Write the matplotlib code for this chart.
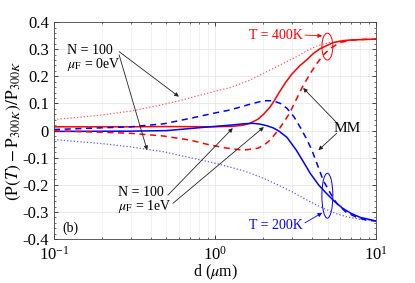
import numpy as np
import matplotlib.pyplot as plt
from matplotlib.patches import Ellipse

plt.rcParams['font.family'] = ['Liberation Serif', 'DejaVu Serif']
plt.rcParams['mathtext.fontset'] = 'stix'
plt.rcParams['axes.unicode_minus'] = False
plt.rcParams['font.size'] = 9.5

# Veriler
d_r_dot = [0.1, 0.15, 0.2, 0.3, 0.45, 0.6, 0.8, 1.0, 1.24, 1.65, 2.0, 2.5, 3.2, 3.8, 4.3, 5.0, 6.2, 8.0, 10.0]
p_r_dot = [0.041, 0.05, 0.058, 0.072, 0.093, 0.11, 0.13, 0.145, 0.158, 0.186, 0.211, 0.24, 0.272, 0.297, 0.312, 0.323, 0.333, 0.336, 0.337]

d_b_dot = [0.1, 0.2, 0.3, 0.48, 0.81, 1.0, 1.25, 1.5, 1.9, 2.4, 3.0, 3.7, 4.7, 5.6, 6.6, 8.0, 10.0]
p_b_dot = [-0.033, -0.048, -0.06, -0.078, -0.108, -0.12, -0.135, -0.148, -0.17, -0.197, -0.225, -0.255, -0.286, -0.305, -0.318, -0.327, -0.333]

d_r_sol = [0.1, 0.3, 0.5, 1.0, 1.3, 1.5, 1.65, 1.85, 2.0, 2.2, 2.35, 2.5, 2.75, 3.0, 3.35, 3.7, 4.1, 4.5, 5.4, 6.2, 7.0, 8.5, 10.0]
p_r_sol = [0.014, 0.014, 0.015, 0.014, 0.016, 0.02, 0.027, 0.042, 0.06, 0.087, 0.113, 0.14, 0.178, 0.208, 0.238, 0.26, 0.285, 0.302, 0.324, 0.331, 0.334, 0.336, 0.337]

d_b_sol = [0.1, 0.3, 0.5, 0.93, 1.24, 1.5, 1.7, 1.9, 2.1, 2.3, 2.5, 2.8, 3.2, 3.5, 3.9, 4.4, 4.9, 5.5, 6.2, 7.0, 8.0, 10.0]
p_b_sol = [-0.003, -0.002, 0.0, 0.014, 0.02, 0.025, 0.027, 0.024, 0.018, 0.01, -0.002, -0.025, -0.072, -0.11, -0.157, -0.2, -0.23, -0.26, -0.286, -0.305, -0.32, -0.333]

d_r_das = [0.1, 0.2, 0.3, 0.48, 0.7, 0.93, 1.2, 1.5, 1.85, 2.05, 2.2, 2.5, 2.9, 3.2, 3.5, 3.9, 4.3, 4.7, 5.2, 6.0, 7.0, 8.5, 10.0]
p_r_das = [-0.001, -0.006, -0.01, -0.02, -0.035, -0.053, -0.065, -0.072, -0.065, -0.05, -0.035, 0.005, 0.063, 0.115, 0.162, 0.21, 0.248, 0.278, 0.303, 0.325, 0.333, 0.336, 0.337]

d_b_das = [0.1, 0.3, 0.48, 0.7, 1.0, 1.24, 1.6, 2.0, 2.3, 2.55, 2.8, 3.1, 3.4, 3.7, 4.0, 4.35, 4.7, 5.2, 5.7, 6.5, 7.6, 8.7, 10.0]
p_b_das = [0.004, 0.014, 0.025, 0.045, 0.065, 0.076, 0.095, 0.11, 0.11, 0.1, 0.082, 0.05, 0.01, -0.03, -0.072, -0.13, -0.183, -0.23, -0.268, -0.3, -0.32, -0.33, -0.333]

yticks = [-0.4, -0.3, -0.2, -0.1, 0, 0.1, 0.2, 0.3, 0.4]
ytick_labels = ['-0.4', '-0.3', '-0.2', '-0.1', '0', '0.1', '0.2', '0.3', '0.4']

fig = plt.figure(figsize=(4.15, 2.83), dpi=100)
ax = fig.add_axes([0.130, 0.155, 0.776, 0.767])

ax.plot(d_r_dot, p_r_dot, color='#ff5a5a', ls=':', lw=0.9)
ax.plot(d_b_dot, p_b_dot, color='#5a5aff', ls=':', lw=0.9)
ax.plot(d_r_sol, p_r_sol, color='red', ls='-', lw=1.1)
ax.plot(d_b_sol, p_b_sol, color='blue', ls='-', lw=1.1)
ax.plot(d_r_das, p_r_das, color='red', ls=(0, (4, 3)), lw=1.1)
ax.plot(d_b_das, p_b_das, color='blue', ls=(0, (4, 3)), lw=1.1)

ax.set_xscale('log')
ax.set_xlim(0.1, 10)
ax.set_ylim(-0.4, 0.4)
ax.set_yticks(yticks)
ax.set_yticklabels(ytick_labels)
ax.set_yticks(np.arange(-0.4, 0.41, 0.02), minor=True)
ax.tick_params(which='both', direction='in', top=True, right=True, labelsize=12)
ax.tick_params(which='major', length=3, width=0.5)
ax.tick_params(which='minor', length=1.5, width=0.4)
ax.tick_params(axis='x', which='major', pad=5)
ax.grid(which='major', color='#e6e6e6', lw=0.6)
ax.grid(which='minor', axis='x', color='#ededed', lw=0.5)
ax.set_axisbelow(True)
for s in ax.spines.values():
    s.set_linewidth(0.6)
    s.set_color('#444444')

ax.set_xlabel(r'd ($\mu$m)', fontsize=11.5, labelpad=-1)
ax.set_ylabel(r'$(\mathrm{P}(T) - \mathrm{P}_{300K})/\mathrm{P}_{300K}$', fontsize=12.5, labelpad=0)

arr = dict(arrowstyle='-|>', color='#222222', lw=0.6, mutation_scale=6, shrinkA=0, shrinkB=0)

# Etiketler ve oklar
ax.text(0.12, 0.297, 'N = 100', ha='left', va='center', fontsize=10)
ax.text(0.12, 0.245, r'$\mu_{\mathrm{F}}$ = 0eV', ha='left', va='center', fontsize=10)
ax.annotate('', xy=(0.597, 0.125), xytext=(0.254, 0.291), arrowprops=arr)
ax.annotate('', xy=(0.379, -0.072), xytext=(0.254, 0.279), arrowprops=arr)

ax.text(0.25, -0.227, 'N = 100', ha='left', va='center', fontsize=10)
ax.text(0.25, -0.279, r'$\mu_{\mathrm{F}}$ = 1eV', ha='left', va='center', fontsize=10)
ax.annotate('', xy=(1.29, 0.009), xytext=(0.51, -0.238), arrowprops=arr)
ax.annotate('', xy=(2.01, 0.013), xytext=(0.548, -0.268), arrowprops=arr)

ax.text(3.5, 0.352, 'T = 400K', color='red', ha='right', va='center', fontsize=10)
ax.annotate('', xy=(4.63, 0.349), xytext=(3.62, 0.352),
            arrowprops=dict(arr, color='red'))
ax.add_patch(Ellipse((0.849, 0.887), 0.034, 0.124, transform=ax.transAxes,
                     fill=False, ec='red', lw=0.7))

ax.text(3.5, -0.35, 'T = 200K', color='blue', ha='right', va='center', fontsize=10)
ax.annotate('', xy=(4.63, -0.303), xytext=(3.62, -0.34),
            arrowprops=dict(arr, color='blue'))
ax.add_patch(Ellipse((0.849, 0.2), 0.034, 0.207, transform=ax.transAxes,
                     fill=False, ec='blue', lw=0.7))

ax.text(6.6, 0.006, 'MM', ha='center', va='center', fontsize=11)
ax.annotate('', xy=(3.53, 0.157), xytext=(5.9, 0.02), arrowprops=arr)
ax.annotate('', xy=(4.39, -0.072), xytext=(5.7, -0.01), arrowprops=arr)

ax.text(0.112, -0.36, '(b)', ha='left', va='center', fontsize=10)

fig.savefig('out.png', dpi=100)
